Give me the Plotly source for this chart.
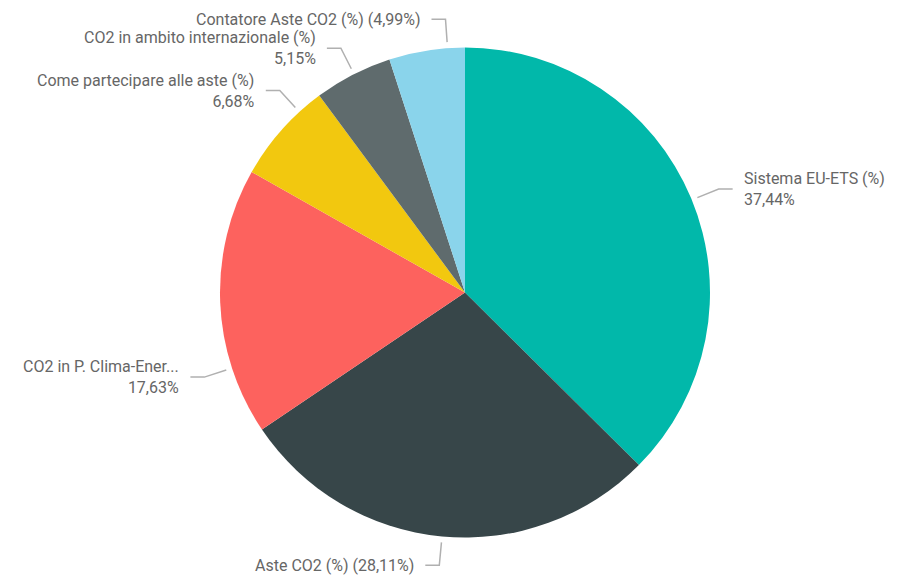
import math
import plotly.graph_objects as go

# Share of page views per section (%), clockwise from 12 o'clock
labels = [
    "Sistema EU-ETS (%)",
    "Aste CO2 (%)",
    "CO2 in P. Clima-Ener...",
    "Come partecipare alle aste (%)",
    "CO2 in ambito internazionale (%)",
    "Contatore Aste CO2 (%)",
]
values = [37.44, 28.11, 17.63, 6.68, 5.15, 4.99]
colors = ["#01B8AA", "#374649", "#FD625E", "#F2C80F", "#5F6B6D", "#8AD4EB"]

# Label layout: one-line "name (value)" or two-line "name / value",
# and a small angular nudge so neighbouring labels do not collide
one_line = [False, True, False, False, False, True]
angle_nudge = [0.4, 0.0, -15.7, 6.0, 0.3, 4.9]

W, H = 900, 579
CX, CY, R = 465.0, 292.5, 245.0      # pie centre and radius in pixels
R_START, R_ELBOW = 251.0, 274.0       # leader line radii
H_LEN, GAP = 14.0, 9.0                # horizontal leg and text gap
TEXT_COLOR = "#666666"
LINE_COLOR = "#b0b0b0"
FONT = "Roboto"

fig = go.Figure()

fig.add_trace(go.Pie(
    labels=labels,
    values=values,
    sort=False,
    direction="clockwise",
    rotation=0,
    marker=dict(colors=colors, line=dict(width=0)),
    textinfo="none",
    hoverinfo="label+percent",
    showlegend=False,
    domain=dict(
        x=[(CX - R) / W, (CX + R) / W],
        y=[1 - (CY + R) / H, 1 - (CY - R) / H],
    ),
))


def fmt(v):
    return f"{v:.2f}".replace(".", ",") + "%"


total = sum(values)
cum = 0.0
annotations = []
for lab, val, single, nudge in zip(labels, values, one_line, angle_nudge):
    mid = (cum + val / 2) / total * 360.0 + nudge
    cum += val
    th = math.radians(mid)
    sx, sy = CX + R_START * math.sin(th), CY - R_START * math.cos(th)
    ex, ey = CX + R_ELBOW * math.sin(th), CY - R_ELBOW * math.cos(th)
    side = 1 if math.sin(th) > 0 else -1
    hx = ex + side * H_LEN
    fig.add_trace(go.Scatter(
        x=[sx, ex, hx], y=[sy, ey, ey],
        mode="lines",
        line=dict(color=LINE_COLOR, width=1.5),
        hoverinfo="skip",
        showlegend=False,
        xaxis="x", yaxis="y",
    ))
    text = f"{lab} ({fmt(val)})" if single else f"{lab}<br>{fmt(val)}"
    annotations.append(dict(
        x=hx + side * GAP, y=ey,
        xref="x", yref="y",
        text=text,
        showarrow=False,
        xanchor="left" if side > 0 else "right",
        yanchor="middle",
        align="left" if side > 0 else "right",
        font=dict(family=FONT, size=16, color=TEXT_COLOR),
    ))

fig.update_layout(
    width=W, height=H,
    margin=dict(l=0, r=0, t=0, b=0),
    paper_bgcolor="white",
    plot_bgcolor="rgba(0,0,0,0)",
    xaxis=dict(range=[0, W], visible=False, fixedrange=True, domain=[0, 1]),
    yaxis=dict(range=[H, 0], visible=False, fixedrange=True, domain=[0, 1]),
    annotations=annotations,
)

fig.write_html("out.html")
